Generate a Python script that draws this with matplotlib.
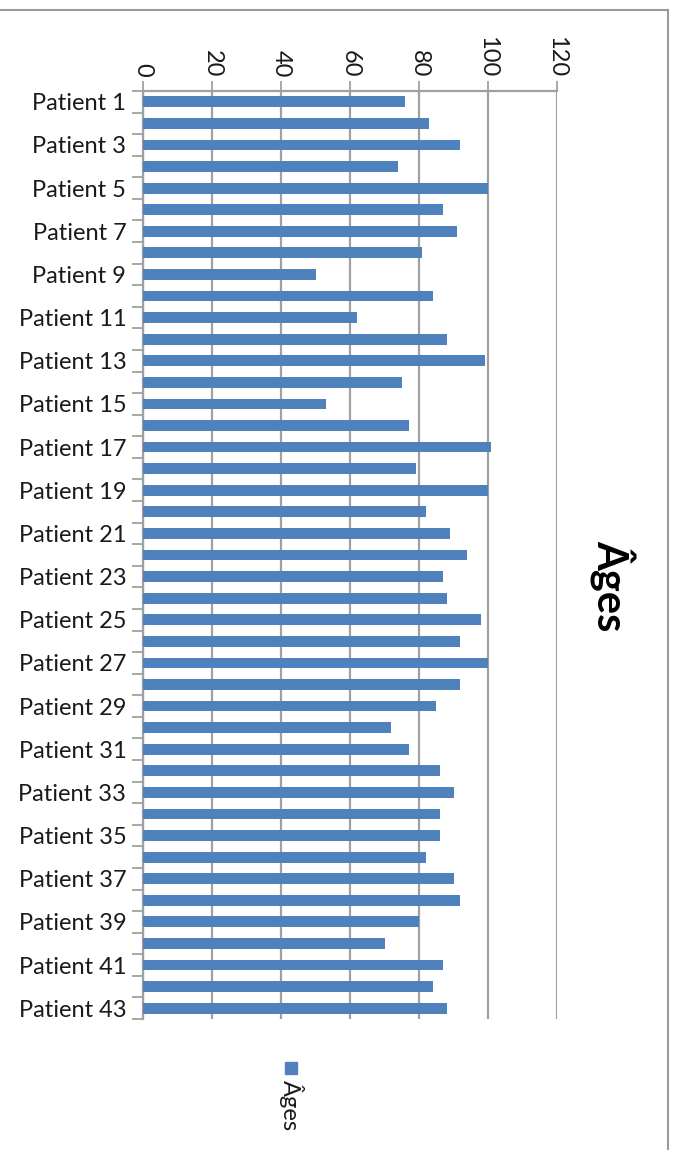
import matplotlib as mpl
mpl.use('Agg')
import matplotlib.pyplot as plt
from matplotlib.patches import Rectangle
from matplotlib.lines import Line2D

plt.rcParams['font.family'] = ['Lato', 'DejaVu Sans']

# data
patients = ["Patient %d" % i for i in range(1, 44)]
ages = [76, 83, 92, 74, 100, 87, 91, 81, 50, 84, 62,
        88, 99, 75, 53, 77, 101, 79, 100, 82, 89, 94,
        87, 88, 98, 92, 100, 92, 85, 72, 77, 86, 90,
        86, 86, 82, 90, 92, 80, 70, 87, 84, 88]
x_ticks = [0, 20, 40, 60, 80, 100, 120]
title = u"Âges"
bar_color = '#4F81BD'
grid_color = '#A0A0A0'

fig = plt.figure(figsize=(6.77, 11.5), dpi=100)
ax = fig.add_axes([143 / 677, 1 - 1019 / 1150, (557 - 143) / 677, (1019 - 91) / 1150])

pos = list(range(len(ages)))
ax.barh(pos, ages, height=0.5, color=bar_color, zorder=3)

ax.set_xlim(0, 120)
ax.set_ylim(len(ages) - 0.5, -0.5)

# value axis at top, labels rotated
ax.xaxis.tick_top()
ax.set_xticks(x_ticks)
ax.set_xticklabels([str(v) for v in x_ticks], rotation=-90, fontsize=17, color='#1a1a1a')
ax.tick_params(axis='x', length=7, width=1.3, color=grid_color, pad=3)
ax.grid(axis='x', color=grid_color, linewidth=1.6, zorder=0)

# category axis: labels on every other patient, ticks between categories
ax.set_yticks(pos[::2])
ax.set_yticklabels(patients[::2], fontsize=17, color='#1a1a1a')
ax.set_yticks([p - 0.5 for p in range(len(ages) + 1)], minor=True)
ax.tick_params(axis='y', which='major', length=0, pad=12)
ax.tick_params(axis='y', which='minor', length=8, width=1.3, color=grid_color)

for s in ['right', 'bottom']:
    ax.spines[s].set_visible(False)
for s in ['top', 'left']:
    ax.spines[s].set_color(grid_color)
    ax.spines[s].set_linewidth(1.6)

# title on the right, rotated
fig.text(612 / 677, 1 - 586 / 1150, title, rotation=-90, fontsize=30, fontweight='bold',
         ha='center', va='center')

# legend
fig.patches.append(Rectangle((285 / 677, 1 - 1074 / 1150), 12 / 677, 12 / 1150,
                             transform=fig.transFigure, color=bar_color))
fig.text(291 / 677, 1 - 1080 / 1150, title, rotation=-90, fontsize=17,
         ha='center', va='top', color='#1a1a1a')

# chart frame
fig.lines.append(Line2D([0, 668 / 677], [1 - 9.5 / 1150] * 2, transform=fig.transFigure,
                        color='#9A9A9A', linewidth=1.5))
fig.lines.append(Line2D([668 / 677] * 2, [0, 1 - 9.5 / 1150], transform=fig.transFigure,
                        color='#9A9A9A', linewidth=1.5))

plt.savefig('out.png', dpi=100)
